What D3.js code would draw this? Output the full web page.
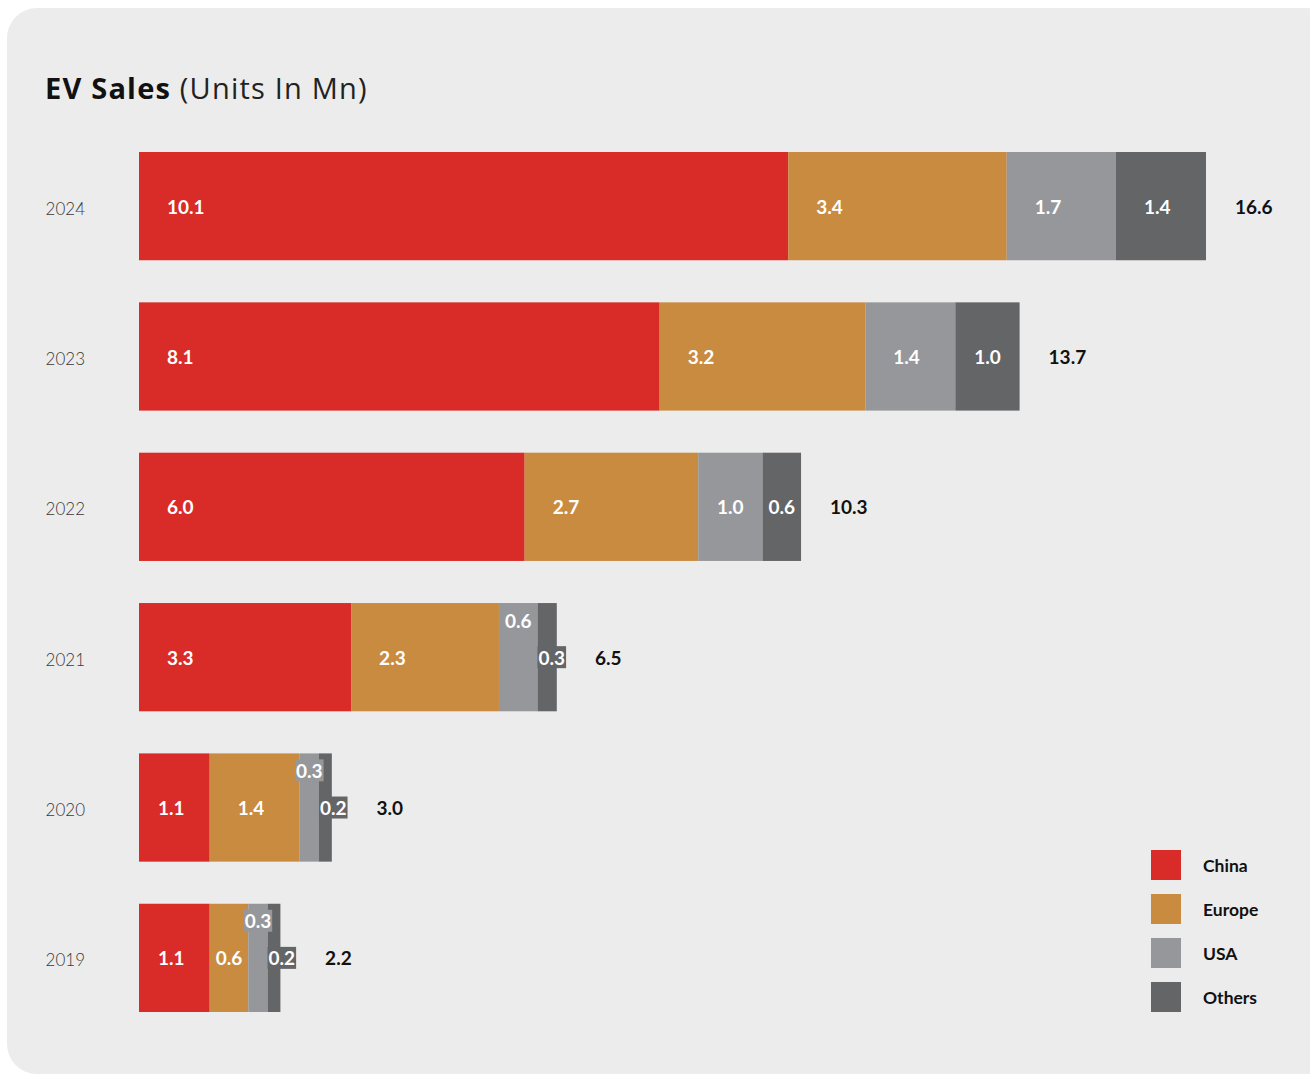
<!DOCTYPE html>
<html>
<head>
<meta charset="utf-8">
<script src="https://cdn.jsdelivr.net/npm/d3@7"></script>
<style>
  html, body { margin: 0; padding: 0; background: #ffffff; }
  svg { display: block; font-family: Lato, "Open Sans", sans-serif; }
</style>
</head>
<body>
<svg id="chart" width="1310" height="1075"></svg>
<script>
// EV sales by region, millions of units
const years   = ["2024", "2023", "2022", "2021", "2020", "2019"];
const regions = ["China", "Europe", "USA", "Others"];
const china   = [10.1, 8.1, 6.0, 3.3, 1.1, 1.1];
const europe  = [3.4, 3.2, 2.7, 2.3, 1.4, 0.6];
const usa     = [1.7, 1.4, 1.0, 0.6, 0.3, 0.3];
const others  = [1.4, 1.0, 0.6, 0.3, 0.2, 0.2];
const totals  = [16.6, 13.7, 10.3, 6.5, 3.0, 2.2];

const colors = ["#d92b27", "#c98b40", "#96979a", "#646567"];

const rows = years.map((y, i) => ({
  year: y, China: china[i], Europe: europe[i], USA: usa[i], Others: others[i], total: totals[i]
}));

const svg = d3.select("#chart");

// card background
svg.append("rect")
  .attr("x", 7).attr("y", 8)
  .attr("width", 1330).attr("height", 1066)
  .attr("rx", 30).attr("ry", 30)
  .attr("fill", "#ececec");

// title
const title = svg.append("text")
  .attr("x", 45).attr("y", 99)
  .style("font-family", "'Open Sans', sans-serif")
  .style("font-size", "29px")
  .style("letter-spacing", "1.2px")
  .attr("fill", "#111");
title.append("tspan").style("font-weight", 700).text("EV Sales");
title.append("tspan").style("font-weight", 400).attr("fill", "#222").text(" (Units In Mn)");

const x = d3.scaleLinear().domain([0, 16.6]).range([139, 1206]);
const y = d3.scaleBand().domain(years).range([152, 1012]).paddingInner(0.28).paddingOuter(0);
const color = d3.scaleOrdinal().domain(regions).range(colors);

// year axis, drawn without domain line or ticks
const yAxis = svg.append("g")
  .attr("transform", "translate(85,3)")
  .call(d3.axisLeft(y).tickSize(0).tickPadding(0));
yAxis.select(".domain").remove();
yAxis.selectAll("text")
  .style("font-size", "17px")
  .style("font-weight", 300)
  .style("font-family", "Lato, sans-serif")
  .attr("fill", "#3a3a3a");

const stack = d3.stack().keys(regions)(rows);

const layers = svg.append("g").selectAll("g")
  .data(stack)
  .join("g")
  .attr("fill", d => color(d.key));

layers.selectAll("rect")
  .data(d => d.map(s => Object.assign(s, { key: d.key })))
  .join("rect")
  .attr("x", d => x(d[0]))
  .attr("y", d => y(d.data.year))
  .attr("width", d => x(d[1]) - x(d[0]))
  .attr("height", y.bandwidth());

// segment value labels; track the right-most extent of each row for the totals
const rowExtent = {};
const minFit = 36;
const labelG = svg.append("g");
stack.forEach((layer, li) => {
  layer.forEach((seg, si) => {
    const x0 = x(seg[0]), x1 = x(seg[1]);
    const w = x1 - x0;
    const v = seg[1] - seg[0];
    const txt = v.toFixed(1);
    const year = seg.data.year;
    const top = y(year);
    const cy = top + y.bandwidth() / 2;
    rowExtent[year] = Math.max(rowExtent[year] || 0, x1);
    const t = labelG.append("text")
      .style("font-size", "19px")
      .style("font-weight", 700)
      .attr("fill", "#fff")
      .attr("dominant-baseline", "central")
      .text(txt);
    const tw = t.node().getComputedTextLength();
    // the USA label moves up when the Others label beside it is on a chip
    const othersW = x(stack[3][si][1]) - x(stack[3][si][0]);
    const lifted = layer.key === "USA" && othersW < minFit;
    if (!lifted && w >= 66) {
      const off = Math.min(28, (w - tw) / 2 - 3);
      t.attr("x", x0 + off).attr("y", cy);
    } else if (!lifted && w >= minFit) {
      t.attr("x", x0 + (w - tw) / 2).attr("y", cy);
    } else {
      // narrow segment: label sits on a chip of the segment colour
      let tx, ty;
      if (layer.key === "Others") {
        tx = x0 + 1; ty = cy;
      } else {
        tx = x0 + w / 2 - tw / 2; ty = top + 17;
      }
      const pad = 1;
      labelG.insert("rect", () => t.node())
        .attr("x", tx - pad).attr("y", ty - 11)
        .attr("width", tw + pad * 2).attr("height", 22)
        .attr("fill", color(layer.key));
      t.attr("x", tx).attr("y", ty);
      rowExtent[year] = Math.max(rowExtent[year], tx + tw + pad);
    }
  });
});

// totals
svg.append("g").selectAll("text")
  .data(rows)
  .join("text")
  .attr("x", d => rowExtent[d.year] + 29)
  .attr("y", d => y(d.year) + y.bandwidth() / 2)
  .attr("dominant-baseline", "central")
  .style("font-size", "19px")
  .style("font-weight", 700)
  .attr("fill", "#111")
  .text(d => d.total.toFixed(1));

// legend
const legend = svg.append("g").selectAll("g")
  .data(regions)
  .join("g")
  .attr("transform", (d, i) => `translate(1151,${850 + i * 44})`);
legend.append("rect")
  .attr("width", 30).attr("height", 30)
  .attr("fill", d => color(d));
legend.append("text")
  .attr("x", 52).attr("y", 15)
  .attr("dominant-baseline", "central")
  .style("font-size", "17.5px")
  .style("font-weight", 700)
  .attr("fill", "#111")
  .text(d => d);
</script>
</body>
</html>
